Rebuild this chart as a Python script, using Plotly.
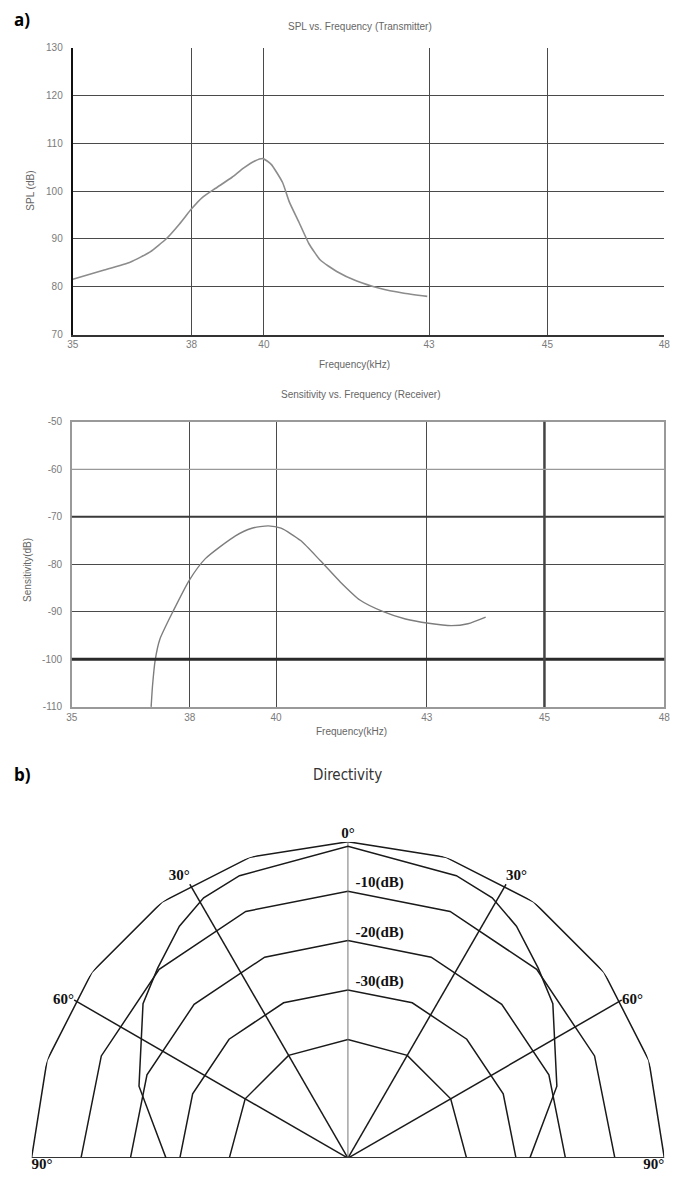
import numpy as np
import plotly.graph_objects as go

W, H = 688, 1194

# ---------------- a) SPL vs Frequency (Transmitter) ----------------
spl_freq = [35.0, 35.69, 36.27, 36.70, 37.06, 37.35, 37.61, 37.85, 38.14, 38.50, 38.75,
            39.00, 39.18, 39.36, 39.61, 39.76, 39.97, 40.19, 40.44, 40.80, 41.24, 41.74,
            42.25, 42.79]
spl_db = [81.6, 83.5, 85.2, 87.3, 90.1, 93.2, 96.3, 98.7, 100.6, 102.9, 104.8,
          106.3, 106.8, 105.6, 101.8, 97.7, 93.5, 89.0, 85.6, 83.2, 81.2, 79.7,
          78.7, 78.0]

# ---------------- Sensitivity vs Frequency (Receiver) ----------------
sens_freq = [36.74, 36.77, 36.83, 36.93, 37.22, 37.58, 37.93, 38.59, 38.95, 39.31, 39.59,
             40.02, 40.45, 40.89, 41.32, 41.82, 42.32, 42.83, 43.33, 43.69, 44.08]
sens_db = [-110.0, -105.6, -100.1, -95.8, -89.9, -83.3, -78.8, -74.0, -72.4, -71.9, -72.4,
           -75.0, -79.2, -83.7, -87.5, -89.9, -91.5, -92.4, -92.9, -92.5, -91.1]

freq_tick_labels = ["35", "38", "40", "43", "45", "48"]
spl_freq_tick_pos = [35, 37.61, 39.20, 42.83, 45.43, 48]
sens_freq_tick_pos = [35, 37.59, 39.48, 42.79, 45.37, 48]
spl_ticks = [70, 80, 90, 100, 110, 120, 130]
sens_ticks = [-110, -100, -90, -80, -70, -60, -50]
sens_tick_labels = ["-110", "-100", "-90", "-80", "-70", "-60", "-50"]

# ---------------- b) Directivity ----------------
dir_angle_deg = [-90, -71, -53, -45, -36, -29, -21, 0, 21, 29, 36, 45, 53, 71, 90]
dir_level_db = [-27.2, -19.3, -12.1, -9.6, -6.0, -3.8, -2.8, -0.9,
                -2.8, -3.8, -6.0, -9.6, -12.1, -19.3, -27.2]
ring_levels_db = [0, -10, -20, -30, -40]
ring_labels = ["-10(dB)", "-20(dB)", "-30(dB)"]
spoke_angles = [-60, -30, 30, 60]
angle_labels = ["0°", "30°", "30°", "60°", "60°", "90°", "90°"]
angle_label_pos = [0, -30, 30, -60, 60, -90, 90]
radial_min_db = -64

# ---------------- helpers ----------------
def px_x(x):
    return x / W

def px_y(y):
    return 1 - y / H

TICK_FONT = dict(family="Liberation Sans, Arial, sans-serif", size=10, color="#7a7a7a")
GRID = "#4a4a4a"
SERIF = dict(family="Liberation Serif, Times New Roman, serif", size=15, color="#111",
             weight="bold")

fig = go.Figure()

fig.add_trace(go.Scatter(x=spl_freq, y=spl_db, mode="lines",
                         line=dict(color="#8c8c8c", width=1.6, shape="spline", smoothing=0.5),
                         xaxis="x", yaxis="y", hoverinfo="skip"))
fig.add_trace(go.Scatter(x=sens_freq, y=sens_db, mode="lines",
                         line=dict(color="#7d7d7d", width=1.4, shape="spline", smoothing=0.6),
                         xaxis="x2", yaxis="y2", hoverinfo="skip"))

# Directivity rings
ring_steps = [18, 22.5, 22.5, 22.5, 30]
for lvl, step in zip(ring_levels_db, ring_steps):
    th = np.arange(-90, 90 + step / 2, step)
    fig.add_trace(go.Scatterpolar(r=[lvl] * len(th), theta=th, mode="lines",
                                  line=dict(color="#1a1a1a", width=1.5),
                                  subplot="polar", hoverinfo="skip"))
# spokes
for a in spoke_angles:
    fig.add_trace(go.Scatterpolar(r=[radial_min_db, 0], theta=[a, a], mode="lines",
                                  line=dict(color="#1a1a1a", width=1.5),
                                  subplot="polar", hoverinfo="skip"))
fig.add_trace(go.Scatterpolar(r=[radial_min_db, 0], theta=[0, 0], mode="lines",
                              line=dict(color="#777", width=1),
                              subplot="polar", hoverinfo="skip"))
fig.add_trace(go.Scatterpolar(r=[0, radial_min_db, 0], theta=[-90, 0, 90], mode="lines",
                              line=dict(color="#333", width=2),
                              subplot="polar", hoverinfo="skip"))
# pattern
fig.add_trace(go.Scatterpolar(r=dir_level_db, theta=dir_angle_deg, mode="lines",
                              line=dict(color="#1a1a1a", width=1.5),
                              subplot="polar", hoverinfo="skip"))
# labels
angle_textpos = ["top center", "top left", "top right", "middle left", "middle right",
                 "bottom right", "bottom left"]
fig.add_trace(go.Scatterpolar(r=[0] * len(angle_labels), theta=angle_label_pos,
                              mode="text", text=angle_labels, textposition=angle_textpos,
                              textfont=SERIF, cliponaxis=False,
                              subplot="polar", hoverinfo="skip"))
fig.add_trace(go.Scatterpolar(r=ring_levels_db[1:4], theta=[0, 0, 0],
                              mode="text", text=["  " + t for t in ring_labels],
                              textposition="top right",
                              textfont=SERIF, cliponaxis=False,
                              subplot="polar", hoverinfo="skip"))

axis_common = dict(showgrid=True, gridcolor=GRID, gridwidth=1.2, zeroline=False,
                   ticks="", tickfont=TICK_FONT, showline=True, fixedrange=True)

fig.update_layout(
    width=W, height=H, autosize=False,
    margin=dict(l=0, r=0, t=0, b=0),
    paper_bgcolor="white", plot_bgcolor="white",
    showlegend=False,
    xaxis=dict(domain=[px_x(68), px_x(670)], range=[35, 48], tickvals=spl_freq_tick_pos,
               ticktext=freq_tick_labels, anchor="y", linecolor="#333", linewidth=1.5,
               mirror=False, **axis_common),
    yaxis=dict(domain=[px_y(332), px_y(42)], range=[70, 130], tickvals=spl_ticks,
               anchor="x", linecolor="#111", linewidth=2.2, ticklabelstandoff=6,
               mirror=False, **axis_common),
    xaxis2=dict(domain=[px_x(67), px_x(670)], range=[35, 48], tickvals=sens_freq_tick_pos,
                ticktext=freq_tick_labels, anchor="y2", linecolor="#999", linewidth=1.5,
                mirror=True, **axis_common),
    yaxis2=dict(domain=[px_y(708), px_y(420)], range=[-110, -50], tickvals=sens_ticks,
                ticktext=sens_tick_labels,
                anchor="x2", linecolor="#999", linewidth=1.5, ticklabelstandoff=6,
                mirror=True, **axis_common),
    polar=dict(domain=dict(x=[px_x(348 - 322), px_x(348 + 322)], y=[px_y(1165), px_y(1165 - 322)]),
               sector=[0, 180], bgcolor="white",
               radialaxis=dict(range=[radial_min_db, 0], visible=False),
               angularaxis=dict(rotation=90, direction="clockwise", visible=False)),
)

fig.update_layout(shapes=[
    dict(type="line", xref="x2 domain", yref="y2", x0=0, x1=1, y0=sens_ticks[1], y1=sens_ticks[1],
         line=dict(color="#2a2a2a", width=3)),
    dict(type="line", xref="x2 domain", yref="y2", x0=0, x1=1, y0=sens_ticks[4], y1=sens_ticks[4],
         line=dict(color="#3a3a3a", width=2)),
    dict(type="line", xref="x2", yref="y2 domain", x0=sens_freq_tick_pos[4], x1=sens_freq_tick_pos[4],
         y0=0, y1=1, line=dict(color="#444", width=2.5)),
    dict(type="line", xref="x2 domain", yref="y2", x0=0, x1=1, y0=sens_ticks[5], y1=sens_ticks[5],
         line=dict(color="#999", width=1.2)),
])

LABEL_FONT = dict(family="Liberation Sans, Arial, sans-serif", size=10, color="#666")
ann = []
ann.append(dict(text="<b>a)</b>", x=px_x(6), y=px_y(14), xanchor="left", yanchor="middle",
                font=dict(family="Open Sans, sans-serif", size=17, color="#000")))
ann.append(dict(text="SPL vs. Frequency (Transmitter)", x=px_x(360), y=px_y(21),
                xanchor="center", yanchor="middle", font=LABEL_FONT))
ann.append(dict(text="SPL (dB)", x=px_x(25), y=px_y(187), textangle=-90,
                xanchor="center", yanchor="middle", font=LABEL_FONT))
ann.append(dict(text="Frequency(kHz)", x=px_x(355), y=px_y(362),
                xanchor="center", yanchor="middle", font=LABEL_FONT))
ann.append(dict(text="Sensitivity vs. Frequency (Receiver)", x=px_x(361), y=px_y(392),
                xanchor="center", yanchor="middle", font=LABEL_FONT))
ann.append(dict(text="Sensitivity(dB)", x=px_x(22), y=px_y(570), textangle=-90,
                xanchor="center", yanchor="middle", font=LABEL_FONT))
ann.append(dict(text="Frequency(kHz)", x=px_x(352), y=px_y(733),
                xanchor="center", yanchor="middle", font=LABEL_FONT))
ann.append(dict(text="<b>b)</b>", x=px_x(6), y=px_y(776), xanchor="left", yanchor="middle",
                font=dict(family="Open Sans, sans-serif", size=17, color="#000")))
ann.append(dict(text="Directivity", x=px_x(348), y=px_y(777), xanchor="center", yanchor="middle",
                font=dict(family="DejaVu Sans Condensed, Liberation Sans Narrow, sans-serif",
                          size=15, color="#333")))
for a in ann:
    a.update(xref="paper", yref="paper", showarrow=False)
fig.update_layout(annotations=ann)

fig.write_html("out.html")
